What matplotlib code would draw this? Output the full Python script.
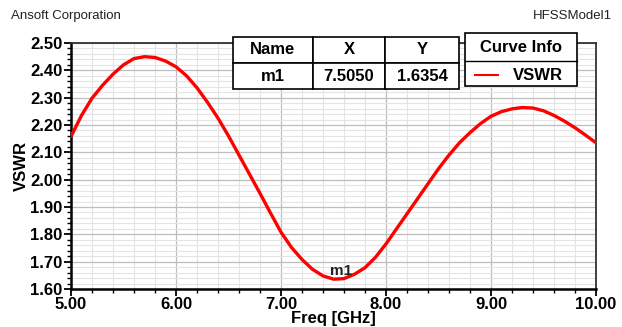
import matplotlib
matplotlib.use("Agg")
import matplotlib.pyplot as plt
from matplotlib.patches import Rectangle
from matplotlib.lines import Line2D
from matplotlib.ticker import MultipleLocator, FormatStrFormatter

plt.rcParams['font.family'] = ['Liberation Sans', 'DejaVu Sans']

freq = [5.0, 5.1, 5.2, 5.3, 5.4, 5.5, 5.6, 5.7, 5.8, 5.9, 6.0, 6.1, 6.2, 6.3, 6.4,
        6.5, 6.6, 6.7, 6.8, 6.9, 7.0, 7.1, 7.2, 7.3, 7.4, 7.5, 7.6, 7.7, 7.8, 7.9,
        8.0, 8.1, 8.2, 8.3, 8.4, 8.5, 8.6, 8.7, 8.8, 8.9, 9.0, 9.1, 9.2, 9.3, 9.4,
        9.5, 9.6, 9.7, 9.8, 9.9, 10.0]
vswr = [2.158, 2.235, 2.298, 2.345, 2.386, 2.420, 2.443, 2.450, 2.447, 2.434, 2.413,
        2.380, 2.336, 2.283, 2.225, 2.160, 2.090, 2.020, 1.950, 1.878, 1.808, 1.752,
        1.708, 1.672, 1.648, 1.636, 1.638, 1.654, 1.678, 1.716, 1.765, 1.820, 1.875,
        1.930, 1.985, 2.040, 2.090, 2.135, 2.172, 2.205, 2.232, 2.249, 2.259, 2.264,
        2.262, 2.252, 2.235, 2.214, 2.190, 2.163, 2.135]

marker_name = "m1"
marker_x = 7.5050
marker_y = 1.6354

table_header = ["Name", "X", "Y"]
table_row = [marker_name, f"{marker_x:.4f}", f"{marker_y:.4f}"]
legend_title = "Curve Info"
series_name = "VSWR"

fig = plt.figure(figsize=(6.22, 3.27), dpi=100)
ax = fig.add_axes([71/622, 1-289/327, 525/622, 246/327])

ax.plot(freq, vswr, color='#ff0000', lw=2.4, zorder=3, solid_capstyle='round',
        solid_joinstyle='round')
ax.text(marker_x + 0.07, marker_y + 0.031, marker_name, ha='center', va='center',
        fontsize=11, fontweight='bold', color='#222222', zorder=4)

ax.set_xlim(5.0, 10.0)
ax.set_ylim(1.60, 2.50)
ax.xaxis.set_major_locator(MultipleLocator(1.0))
ax.xaxis.set_minor_locator(MultipleLocator(0.2))
ax.yaxis.set_major_locator(MultipleLocator(0.1))
ax.yaxis.set_minor_locator(MultipleLocator(0.02))
ax.xaxis.set_major_formatter(FormatStrFormatter('%.2f'))
ax.yaxis.set_major_formatter(FormatStrFormatter('%.2f'))

ax.grid(which='major', color='#bdbdbd', lw=0.9, zorder=0)
ax.grid(which='minor', color='#e4e4e4', lw=0.8, zorder=0)
ax.set_axisbelow(True)

ax.tick_params(which='major', direction='out', length=5, width=1.3, color='black',
               labelsize=12, pad=1)
ax.tick_params(which='minor', direction='out', length=3, width=1.0, color='black')
for lab in ax.get_xticklabels() + ax.get_yticklabels():
    lab.set_fontweight('bold')

for s in ['left', 'bottom']:
    ax.spines[s].set_linewidth(1.8)
    ax.spines[s].set_color('black')
for s in ['top', 'right']:
    ax.spines[s].set_linewidth(1.3)
    ax.spines[s].set_color('#333333')

ax.set_xlabel("Freq [GHz]", fontsize=12, fontweight='bold', labelpad=-1)
ax.set_ylabel("VSWR", fontsize=12, fontweight='bold', labelpad=1)

fig.text(11/622, 1-16/327, "Ansoft Corporation", fontsize=9.5, ha='left', va='center', color='#222222')
fig.text(612/622, 1-16/327, "HFSSModel1", fontsize=9.5, ha='right', va='center', color='#222222')

# marker table
tb = ax.table(cellText=[table_header, table_row], cellLoc='center',
              bbox=[0.309, 0.8118, 0.430, 0.2138],
              colWidths=[79.4, 73.0, 73.6])
tb.auto_set_font_size(False)
for (r, c), cell in tb.get_celld().items():
    cell.set_edgecolor('black')
    cell.set_linewidth(1.2)
    cell.set_facecolor('white')
    cell.get_text().set_fontsize(12)
    cell.get_text().set_fontweight('bold')
tb.set_zorder(5)
tb.set_clip_on(False)

# curve info box
x0, x1 = 0.7505, 0.9644
yb, ym, yt = 0.825, 0.9248, 1.039
ax.add_patch(Rectangle((x0, yb), x1 - x0, yt - yb, transform=ax.transAxes,
                       facecolor='white', edgecolor='black', lw=1.2, zorder=5, clip_on=False))
ax.add_line(Line2D([x0, x1], [ym, ym], transform=ax.transAxes, color='black', lw=1.0,
                   zorder=6, clip_on=False))
ax.text((x0 + x1) / 2, (ym + yt) / 2, legend_title, transform=ax.transAxes, ha='center',
        va='center', fontsize=12, fontweight='bold', zorder=6)
ax.add_line(Line2D([(475-71)/525, (498-71)/525], [(289-75)/246, (289-75)/246],
                   transform=ax.transAxes, color='#ff0000', lw=1.5, zorder=6, clip_on=False))
ax.text((538-71)/525, (289-75)/246, series_name, transform=ax.transAxes, ha='center',
        va='center', fontsize=12, fontweight='bold', zorder=6)

fig.savefig("out.png", dpi=100)
